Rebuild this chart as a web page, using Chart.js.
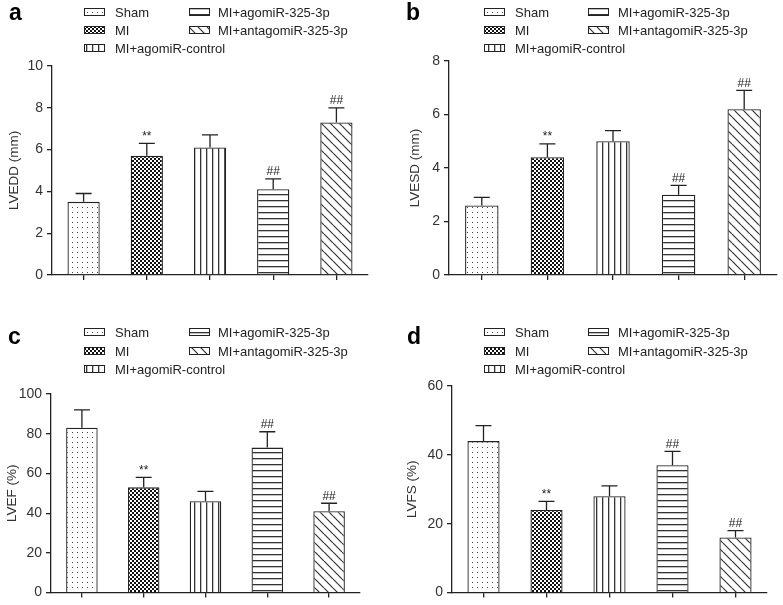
<!DOCTYPE html>
<html>
<head>
<meta charset="utf-8">
<script src="https://cdn.jsdelivr.net/npm/chart.js@4.4.1/dist/chart.umd.min.js"></script>
<style>
  body { margin: 0; background: #fff; }
  #wrap { position: relative; width: 783px; height: 605px; }
  .panel { position: absolute; }
</style>
</head>
<body>
<div id="wrap">
  <div class="panel" style="left:0;top:0;width:390px;height:300px"><canvas id="chartA"></canvas></div>
  <div class="panel" style="left:390px;top:0;width:393px;height:300px"><canvas id="chartB"></canvas></div>
  <div class="panel" style="left:0;top:300px;width:390px;height:305px"><canvas id="chartC"></canvas></div>
  <div class="panel" style="left:390px;top:300px;width:393px;height:305px"><canvas id="chartD"></canvas></div>
</div>
<script>
// data
const groups = ['Sham', 'MI', 'MI+agomiR-control', 'MI+agomiR-325-3p', 'MI+antagomiR-325-3p'];
const marks = ['', '**', '', '##', '##'];

const lveddMean = [3.5, 5.7, 6.1, 4.1, 7.3];
const lveddSd = [0.4, 0.6, 0.6, 0.5, 0.7];
const lvesdMean = [2.6, 4.4, 5.0, 3.0, 6.2];
const lvesdSd = [0.3, 0.5, 0.4, 0.35, 0.7];
const lvefMean = [83, 53, 46, 73, 41];
const lvefSd = [9, 5, 5, 8, 4];
const lvfsMean = [44, 24, 28, 37, 16];
const lvfsSd = [4.5, 2.5, 3, 4, 2];

const FONT = "'Liberation Sans', Arial, sans-serif";
const INK = '#222';

// pattern fills
function makePattern(w, h, draw) {
    const tile = document.createElement('canvas');
    tile.width = w; tile.height = h;
    const t = tile.getContext('2d');
    t.fillStyle = '#fff';
    t.fillRect(0, 0, w, h);
    draw(t, w, h);
    return document.createElement('canvas').getContext('2d').createPattern(tile, 'repeat');
}
const patDots = makePattern(5, 5, (t) => { t.fillStyle = '#444'; t.fillRect(2, 2, 1, 1); });
const patCheck = makePattern(4, 4, (t) => {
    t.fillStyle = '#111';
    t.fillRect(0, 0, 2, 2);
    t.fillRect(2, 2, 2, 2);
});
const patVert = makePattern(6, 6, (t) => { t.fillStyle = '#333'; t.fillRect(2, 0, 1.3, 6); });
const patHorz = makePattern(6, 6, (t) => { t.fillStyle = '#333'; t.fillRect(0, 2, 6, 1.3); });
const patDiag = makePattern(9, 9, (t) => {
    t.strokeStyle = '#333';
    t.lineWidth = 1.2;
    t.beginPath();
    for (const o of [-9, 0, 9]) { t.moveTo(o, 0); t.lineTo(o + 9, 9); }
    t.stroke();
});
const fills = [patDots, patCheck, patVert, patHorz, patDiag];

// error bars + significance marks
const errorBarPlugin = {
    id: 'errorBars',
    afterDatasetsDraw(chart) {
        const ctx = chart.ctx;
        const ys = chart.scales.y;
        const meta = chart.getDatasetMeta(0);
        const ds = chart.data.datasets[0];
        ctx.save();
        ctx.strokeStyle = INK;
        ctx.lineWidth = 1.3;
        meta.data.forEach((bar, i) => {
            const top = ys.getPixelForValue(ds.data[i] + ds.errors[i]);
            const base = ys.getPixelForValue(ds.data[i]);
            ctx.beginPath();
            ctx.moveTo(bar.x, base);
            ctx.lineTo(bar.x, top);
            ctx.moveTo(bar.x - 8, top);
            ctx.lineTo(bar.x + 8, top);
            ctx.stroke();
            if (ds.marks[i]) {
                ctx.fillStyle = INK;
                ctx.font = '12px ' + FONT;
                ctx.textAlign = 'center';
                ctx.textBaseline = 'bottom';
                ctx.fillText(ds.marks[i], bar.x, top - 1);
            }
        });
        ctx.restore();
    }
};

// two-column legend and panel letter
const panelLegendPlugin = {
    id: 'panelLegend',
    afterDraw(chart, args, opts) {
        const ctx = chart.ctx;
        ctx.save();
        ctx.fillStyle = '#000';
        ctx.font = 'bold 23px ' + FONT;
        ctx.textAlign = 'left';
        ctx.textBaseline = 'alphabetic';
        ctx.fillText(opts.letter, opts.letterX, opts.letterY);

        ctx.font = '13px ' + FONT;
        ctx.textBaseline = 'middle';
        chart.data.labels.forEach((lab, i) => {
            const col = i < 3 ? 0 : 1;
            const row = i < 3 ? i : i - 3;
            const sx = opts.swatchX[col];
            const y = opts.rowY[row];
            ctx.fillStyle = fills[i];
            ctx.fillRect(sx, y - 3, 20, 6);
            ctx.strokeStyle = INK;
            ctx.lineWidth = 1;
            ctx.strokeRect(sx + 0.5, y - 3.5, 20, 7);
            ctx.fillStyle = INK;
            ctx.fillText(lab, opts.textX[col], y + 1);
        });
        ctx.restore();
    }
};

function buildChart(id, p) {
    const canvas = document.getElementById(id);
    return new Chart(canvas, {
        type: 'bar',
        data: {
            labels: groups,
            datasets: [{
                data: p.mean,
                errors: p.sd,
                marks: marks,
                backgroundColor: fills,
                borderColor: INK,
                borderWidth: 1.3,
                barPercentage: 0.51,
                categoryPercentage: 1
            }]
        },
        options: {
            responsive: false,
            animation: false,
            devicePixelRatio: 1,
            layout: { padding: { left: 0, right: p.padRight, top: p.top, bottom: 0 } },
            plugins: {
                legend: { display: false },
                tooltip: { enabled: false },
                panelLegend: p.legend
            },
            scales: {
                x: {
                    offset: true,
                    grid: { display: true, offset: false, drawOnChartArea: false, drawTicks: true, tickLength: 5, color: INK, lineWidth: 1.3 },
                    border: { display: true, color: INK, width: 1.3 },
                    ticks: { display: false },
                    afterFit(scale) { scale.height = p.h - p.bottom; }
                },
                y: {
                    min: 0,
                    max: p.max,
                    grid: { display: true, drawOnChartArea: false, drawTicks: true, tickLength: 5, color: INK, lineWidth: 1.3 },
                    border: { display: true, color: INK, width: 1.3 },
                    ticks: { stepSize: p.step, padding: 4, color: '#333', font: { family: FONT, size: 14 } },
                    title: { display: true, text: p.title, color: '#333', font: { family: FONT, size: 13.5 }, padding: { top: p.titlePad, bottom: 0 } },
                    afterFit(scale) { scale.width = p.left; }
                }
            }
        },
        plugins: [errorBarPlugin, panelLegendPlugin]
    });
}

function sizeCanvas(id, w, h) {
    const c = document.getElementById(id);
    c.width = w; c.height = h;
    c.style.width = w + 'px'; c.style.height = h + 'px';
}
sizeCanvas('chartA', 390, 300);
sizeCanvas('chartB', 393, 300);
sizeCanvas('chartC', 390, 305);
sizeCanvas('chartD', 393, 305);

buildChart('chartA', {
    mean: lveddMean, sd: lveddSd, max: 10, step: 2, title: 'LVEDD (mm)',
    h: 300, left: 52, padRight: 22, top: 66, bottom: 275, titlePad: 6,
    legend: { letter: 'a', letterX: 9, letterY: 20, swatchX: [84, 189], textX: [115, 218], rowY: [12, 30, 48] }
});
buildChart('chartB', {
    mean: lvesdMean, sd: lvesdSd, max: 8, step: 2, title: 'LVESD (mm)',
    h: 300, left: 59, padRight: 6, top: 61, bottom: 275, titlePad: 17,
    legend: { letter: 'b', letterX: 16, letterY: 20, swatchX: [94, 198], textX: [125, 228], rowY: [12, 30, 48] }
});
buildChart('chartC', {
    mean: lvefMean, sd: lvefSd, max: 100, step: 20, title: 'LVEF (%)',
    h: 305, left: 51, padRight: 30, top: 94, bottom: 296, titlePad: 4,
    legend: { letter: 'c', letterX: 8, letterY: 44, swatchX: [84, 189], textX: [115, 218], rowY: [32, 51, 69] }
});
buildChart('chartD', {
    mean: lvfsMean, sd: lvfsSd, max: 60, step: 20, title: 'LVFS (%)',
    h: 305, left: 62, padRight: 16, top: 86, bottom: 296, titlePad: 14,
    legend: { letter: 'd', letterX: 17, letterY: 44, swatchX: [94, 198], textX: [125, 228], rowY: [32, 51, 69] }
});
</script>
</body>
</html>
